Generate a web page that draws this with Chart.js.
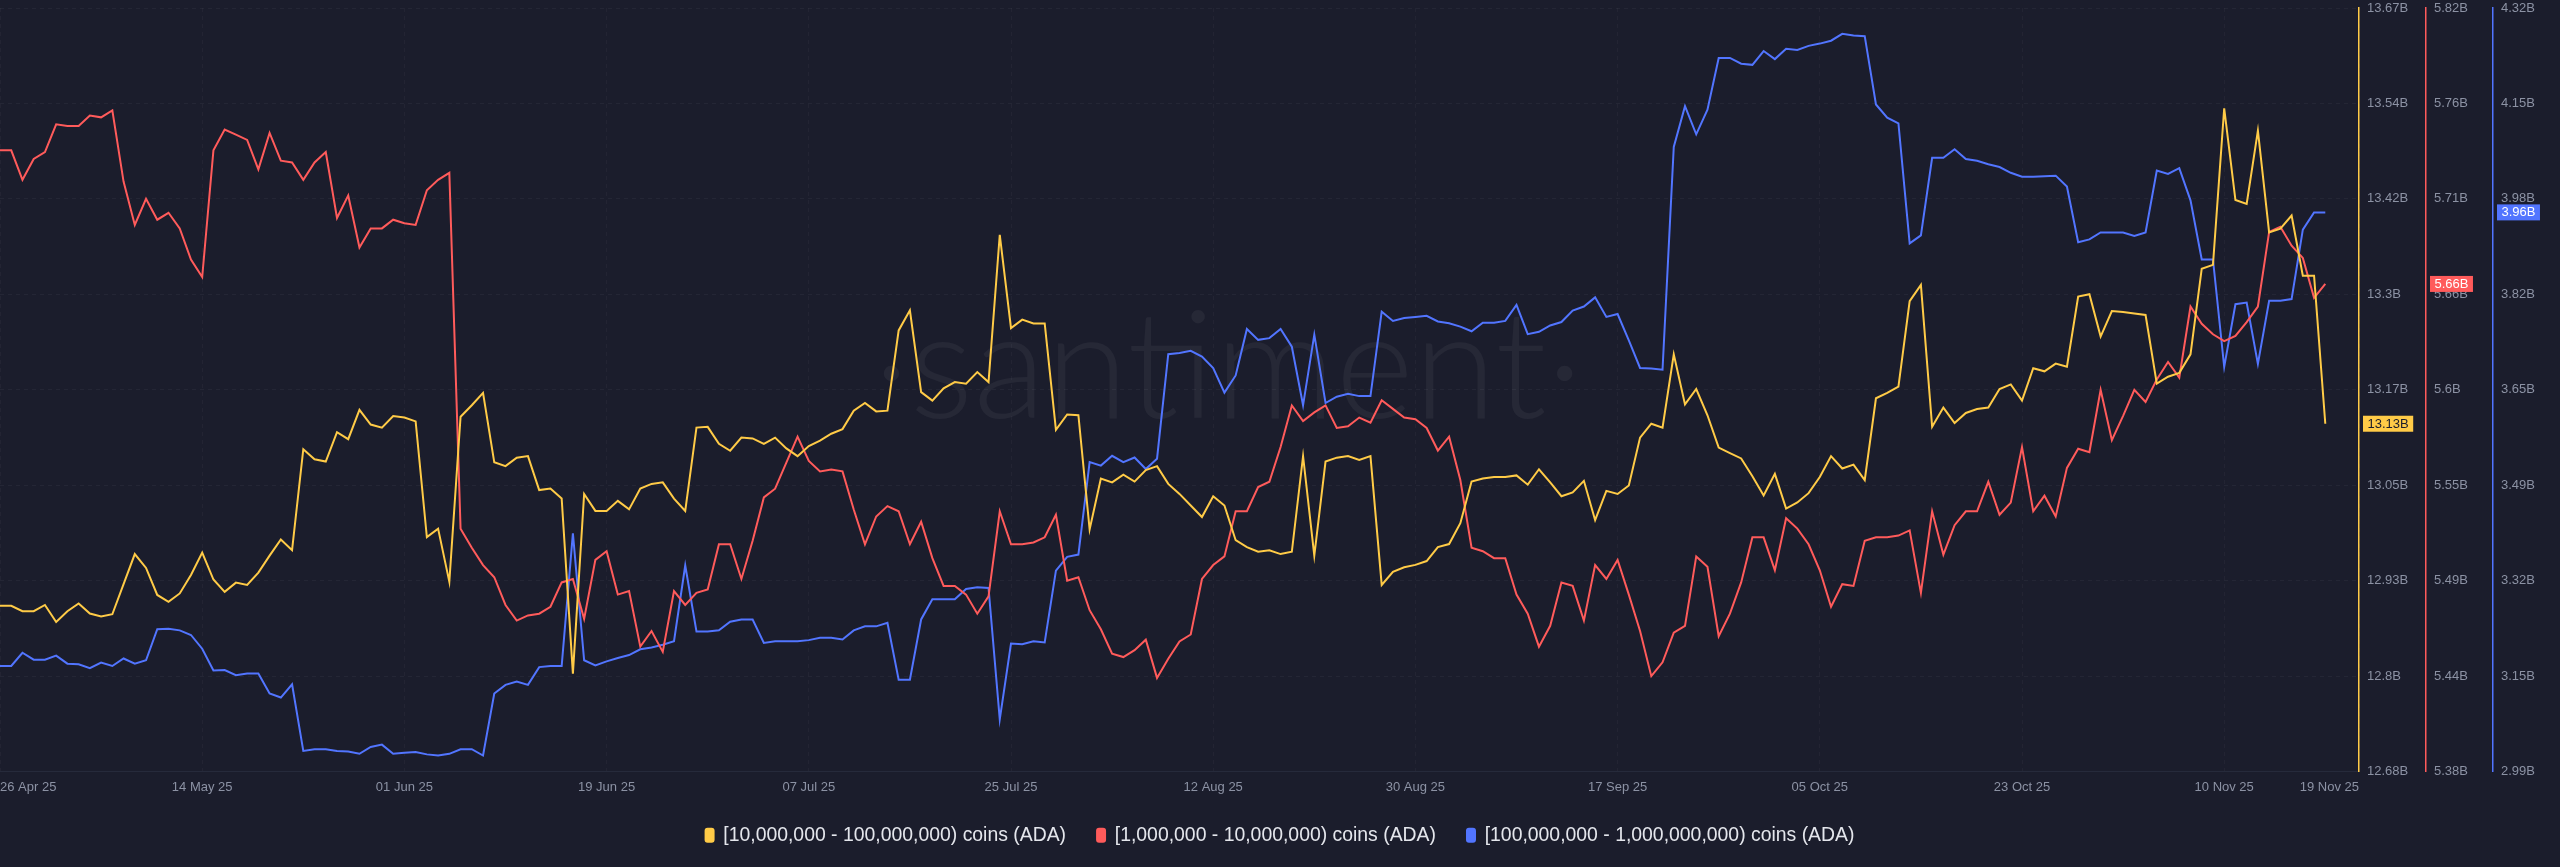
<!DOCTYPE html>
<html>
<head>
<meta charset="utf-8">
<script src="https://cdn.jsdelivr.net/npm/chart.js@4.4.1/dist/chart.umd.min.js"></script>
<style>
  html, body { margin: 0; padding: 0; background: #1b1d2c; }
  #wrap { width: 2560px; height: 867px; }
</style>
</head>
<body>
<div id="wrap"><canvas id="chart" width="2560" height="867"></canvas></div>
<script>
// --- data (daily, starting 26 Apr 2025) ---
const startDate = '2025-04-26';

const xTickLabels = ['26 Apr 25', '14 May 25', '01 Jun 25', '19 Jun 25', '07 Jul 25', '25 Jul 25',
  '12 Aug 25', '30 Aug 25', '17 Sep 25', '05 Oct 25', '23 Oct 25', '10 Nov 25', '19 Nov 25'];
const xTickDates = ['2025-04-26', '2025-05-14', '2025-06-01', '2025-06-19', '2025-07-07', '2025-07-25',
  '2025-08-12', '2025-08-30', '2025-09-17', '2025-10-05', '2025-10-23', '2025-11-10', '2025-11-19'];

// [10,000,000 - 100,000,000) coins, billions
const yellowVals = [
  12.895, 12.895, 12.888, 12.888, 12.896, 12.874, 12.888, 12.898, 12.885, 12.881,
  12.884, 12.923, 12.962, 12.944, 12.909, 12.900, 12.911, 12.935, 12.964, 12.929,
  12.913, 12.925, 12.922, 12.938, 12.960, 12.981, 12.967, 13.098, 13.085, 13.082,
  13.120, 13.111, 13.149, 13.130, 13.126, 13.141, 13.139, 13.134, 12.984, 12.995,
  12.926, 13.140, 13.155, 13.171, 13.081, 13.076, 13.087, 13.089, 13.045, 13.047,
  13.034, 12.807, 13.040, 13.018, 13.018, 13.031, 13.020, 13.047, 13.053, 13.055,
  13.034, 13.018, 13.126, 13.127, 13.105, 13.096, 13.113, 13.112, 13.105, 13.113,
  13.099, 13.089, 13.102, 13.109, 13.118, 13.124, 13.148, 13.158, 13.147, 13.148,
  13.252, 13.278, 13.172, 13.161, 13.177, 13.185, 13.183, 13.198, 13.185, 13.376,
  13.255, 13.266, 13.261, 13.261, 13.123, 13.143, 13.142, 12.994, 13.060, 13.055,
  13.065, 13.056, 13.071, 13.076, 13.053, 13.040, 13.025, 13.010, 13.037, 13.025,
  12.980, 12.971, 12.965, 12.967, 12.962, 12.965, 13.089, 12.960, 13.082, 13.087,
  13.089, 13.084, 13.089, 12.922, 12.939, 12.945, 12.948, 12.953, 12.971, 12.975,
  13.002, 13.056, 13.060, 13.062, 13.062, 13.064, 13.052, 13.072, 13.055, 13.037,
  13.042, 13.057, 13.006, 13.044, 13.040, 13.051, 13.113, 13.131, 13.126, 13.221,
  13.156, 13.176, 13.142, 13.100, 13.093, 13.086, 13.063, 13.038, 13.066, 13.021,
  13.029, 13.041, 13.062, 13.089, 13.073, 13.078, 13.058, 13.164, 13.171, 13.179,
  13.290, 13.311, 13.127, 13.152, 13.132, 13.145, 13.150, 13.152, 13.176, 13.182,
  13.161, 13.203, 13.199, 13.209, 13.205, 13.296, 13.299, 13.244, 13.277, 13.276,
  13.274, 13.272, 13.183, 13.192, 13.197, 13.221, 13.332, 13.337, 13.540, 13.421,
  13.416, 13.511, 13.379, 13.384, 13.401, 13.323, 13.323, 13.131
];

// [1,000,000 - 10,000,000) coins, billions
const redVals = [
  5.738, 5.738, 5.721, 5.733, 5.737, 5.753, 5.752, 5.752, 5.758, 5.757,
  5.761, 5.720, 5.695, 5.710, 5.698, 5.702, 5.693, 5.675, 5.665, 5.738,
  5.750, 5.747, 5.744, 5.727, 5.748, 5.732, 5.731, 5.721, 5.731, 5.737,
  5.699, 5.712, 5.682, 5.693, 5.693, 5.698, 5.696, 5.695, 5.715, 5.721,
  5.725, 5.520, 5.509, 5.499, 5.492, 5.476, 5.467, 5.470, 5.471, 5.475,
  5.489, 5.491, 5.468, 5.502, 5.507, 5.482, 5.484, 5.452, 5.461, 5.449,
  5.484, 5.476, 5.483, 5.485, 5.511, 5.511, 5.491, 5.513, 5.538, 5.543,
  5.558, 5.573, 5.559, 5.553, 5.554, 5.553, 5.531, 5.511, 5.527, 5.533,
  5.530, 5.511, 5.524, 5.503, 5.487, 5.487, 5.482, 5.471, 5.481, 5.530,
  5.511, 5.511, 5.512, 5.515, 5.528, 5.490, 5.492, 5.473, 5.462, 5.448,
  5.446, 5.450, 5.456, 5.434, 5.445, 5.455, 5.459, 5.491, 5.499, 5.504,
  5.530, 5.530, 5.544, 5.547, 5.567, 5.591, 5.582, 5.587, 5.591, 5.578,
  5.579, 5.584, 5.581, 5.594, 5.589, 5.584, 5.583, 5.578, 5.565, 5.573,
  5.548, 5.509, 5.507, 5.503, 5.503, 5.482, 5.471, 5.452, 5.464, 5.489,
  5.487, 5.467, 5.499, 5.491, 5.502, 5.482, 5.461, 5.435, 5.443, 5.460,
  5.464, 5.504, 5.498, 5.458, 5.471, 5.489, 5.515, 5.515, 5.496, 5.526,
  5.520, 5.511, 5.496, 5.475, 5.488, 5.487, 5.513, 5.515, 5.515, 5.516,
  5.519, 5.483, 5.530, 5.505, 5.522, 5.530, 5.530, 5.547, 5.528, 5.535,
  5.567, 5.530, 5.539, 5.527, 5.555, 5.566, 5.564, 5.600, 5.571, 5.585,
  5.600, 5.593, 5.606, 5.616, 5.607, 5.648, 5.638, 5.632, 5.628, 5.631,
  5.639, 5.648, 5.691, 5.694, 5.683, 5.676, 5.653, 5.661
];

// [100,000,000 - 1,000,000,000) coins, billions
const blueVals = [
  3.174, 3.174, 3.197, 3.185, 3.185, 3.192, 3.178, 3.177, 3.170, 3.180,
  3.174, 3.187, 3.178, 3.184, 3.238, 3.239, 3.236, 3.228, 3.204, 3.166,
  3.167, 3.158, 3.161, 3.161, 3.126, 3.119, 3.142, 3.026, 3.029, 3.029,
  3.026, 3.025, 3.021, 3.033, 3.037, 3.021, 3.023, 3.024, 3.020, 3.018,
  3.021, 3.029, 3.029, 3.018, 3.126, 3.141, 3.147, 3.141, 3.172, 3.174,
  3.174, 3.405, 3.184, 3.175, 3.182, 3.188, 3.193, 3.203, 3.206, 3.211,
  3.217, 3.349, 3.234, 3.234, 3.236, 3.251, 3.255, 3.255, 3.214, 3.217,
  3.217, 3.217, 3.219, 3.223, 3.223, 3.220, 3.236, 3.243, 3.243, 3.249,
  3.150, 3.150, 3.255, 3.290, 3.290, 3.290, 3.308, 3.311, 3.310, 3.081,
  3.213, 3.212, 3.217, 3.215, 3.340, 3.364, 3.368, 3.529, 3.523, 3.540,
  3.529, 3.537, 3.517, 3.535, 3.717, 3.719, 3.723, 3.713, 3.693, 3.650,
  3.680, 3.761, 3.742, 3.745, 3.761, 3.730, 3.628, 3.751, 3.632, 3.643,
  3.648, 3.644, 3.644, 3.791, 3.775, 3.780, 3.782, 3.784, 3.774, 3.771,
  3.765, 3.757, 3.772, 3.772, 3.775, 3.803, 3.752, 3.756, 3.767, 3.773,
  3.793, 3.800, 3.816, 3.782, 3.787, 3.741, 3.693, 3.692, 3.690, 4.078,
  4.149, 4.100, 4.143, 4.233, 4.233, 4.223, 4.221, 4.245, 4.231, 4.249,
  4.247, 4.254, 4.258, 4.263, 4.275, 4.272, 4.271, 4.152, 4.129, 4.119,
  3.910, 3.924, 4.059, 4.059, 4.074, 4.057, 4.054, 4.048, 4.043, 4.033,
  4.026, 4.026, 4.027, 4.028, 4.009, 3.912, 3.917, 3.929, 3.929, 3.929,
  3.923, 3.929, 4.037, 4.031, 4.041, 3.985, 3.882, 3.882, 3.695, 3.804,
  3.807, 3.700, 3.810, 3.810, 3.813, 3.934, 3.964, 3.964
];

// right-side axis tick labels (bottom -> top)
const yellowTicks = ['12.68B', '12.8B', '12.93B', '13.05B', '13.17B', '13.3B', '13.42B', '13.54B', '13.67B'];
const redTicks = ['5.38B', '5.44B', '5.49B', '5.55B', '5.6B', '5.66B', '5.71B', '5.76B', '5.82B'];
const blueTicks = ['2.99B', '3.15B', '3.32B', '3.49B', '3.65B', '3.82B', '3.98B', '4.15B', '4.32B'];

const seriesNames = ['[10,000,000 - 100,000,000) coins (ADA)', '[1,000,000 - 10,000,000) coins (ADA)', '[100,000,000 - 1,000,000,000) coins (ADA)'];

// --- styling ---
const YELLOW = '#ffcb47';
const RED = '#ff5b5b';
const BLUE = '#5275ff';
const TICK_COLOR = '#8c92a4';
const AXIS_FONT = "Arial, 'Liberation Sans', sans-serif";

const DAY = 86400000;
const dayOf = (d) => Math.round((new Date(d) - new Date(startDate)) / DAY);
const toPoints = (arr) => arr.map((v, i) => ({ x: i, y: v }));

function yAxis(ticks, color, weight, withGrid) {
  const lo = parseFloat(ticks[0]);
  const hi = parseFloat(ticks[ticks.length - 1]);
  return {
    type: 'linear',
    position: 'right',
    weight: weight,
    min: lo,
    max: hi,
    afterBuildTicks: (axis) => {
      axis.ticks = ticks.map((_, k) => ({ value: lo + (hi - lo) * k / (ticks.length - 1) }));
    },
    afterFit: (axis) => {
      axis.width = 67;
      axis.paddingTop = 8;
      axis.paddingBottom = 0;
    },
    grid: { display: withGrid, drawTicks: false, color: 'rgba(255,255,255,0.045)', lineWidth: 1 },
    border: { display: true, color: color, width: 1.5, dash: [4, 4] },
    ticks: {
      padding: 8,
      color: TICK_COLOR,
      font: { family: AXIS_FONT, size: 13 },
      callback: (v, idx) => ticks[idx]
    }
  };
}

// faint watermark in the plot
const watermark = {
  id: 'watermark',
  beforeDatasetsDraw(chart) {
    const { ctx } = chart;
    ctx.save();
    ctx.fillStyle = 'rgba(255,255,255,0.05)';
    ctx.font = "300 150px Lato, 'Open Sans', sans-serif";
    ctx.textAlign = 'center';
    ctx.textBaseline = 'middle';
    ctx.fillText('\u00b7santiment\u00b7', 1228, 370);
    ctx.restore();
  }
};

// last-value badges on the right axes
const lastBadges = {
  id: 'lastBadges',
  afterDraw(chart) {
    const { ctx } = chart;
    const specs = [
      { ds: 0, axis: 'yYellow', bg: YELLOW, fg: '#1b1d2c' },
      { ds: 1, axis: 'yRed', bg: RED, fg: '#ffffff' },
      { ds: 2, axis: 'yBlue', bg: BLUE, fg: '#ffffff' }
    ];
    ctx.save();
    ctx.font = '13px ' + AXIS_FONT;
    ctx.textBaseline = 'middle';
    specs.forEach(s => {
      const data = chart.data.datasets[s.ds].data;
      const val = data[data.length - 1].y;
      const scale = chart.scales[s.axis];
      const y = scale.getPixelForValue(val);
      const txt = (Math.round(val * 100) / 100) + 'B';
      const w = ctx.measureText(txt).width + 9;
      const x = scale.left + 4;
      ctx.fillStyle = s.bg;
      ctx.fillRect(x, y - 8, w, 16);
      ctx.fillStyle = s.fg;
      ctx.fillText(txt, x + 4.5, y + 0.5);
    });
    ctx.restore();
  }
};

function lineDs(label, vals, color, axis) {
  return {
    label: label,
    data: toPoints(vals),
    yAxisID: axis,
    borderColor: color,
    backgroundColor: color,
    borderWidth: 2,
    pointRadius: 0,
    tension: 0,
    fill: false
  };
}

const xDays = xTickDates.map(dayOf);

new Chart(document.getElementById('chart'), {
  type: 'line',
  data: {
    datasets: [
      lineDs(seriesNames[0], yellowVals, YELLOW, 'yYellow'),
      lineDs(seriesNames[1], redVals, RED, 'yRed'),
      lineDs(seriesNames[2], blueVals, BLUE, 'yBlue')
    ]
  },
  options: {
    responsive: false,
    animation: false,
    devicePixelRatio: 1,
    layout: { padding: { top: 0, left: 0, right: 0, bottom: 12 } },
    scales: {
      x: {
        type: 'linear',
        min: 0,
        max: 210,
        afterBuildTicks: (axis) => {
          // last label sits at the right end of the axis
          axis.ticks = xDays.map((d, k) => ({ value: k === xDays.length - 1 ? axis.max : d }));
        },
        afterFit: (axis) => {
          axis.paddingLeft = 0;
          axis.paddingRight = 0;
          axis.height = 23;
        },
        grid: { display: true, drawTicks: false, color: 'rgba(255,255,255,0.035)' },
        border: { display: true, color: '#262a3b', width: 1, dash: [4, 4] },
        ticks: {
          autoSkip: false,
          maxRotation: 0,
          align: 'inner',
          padding: 8,
          color: TICK_COLOR,
          font: { family: AXIS_FONT, size: 13 },
          callback: (v, idx) => xTickLabels[idx]
        }
      },
      yYellow: yAxis(yellowTicks, YELLOW, 0, true),
      yRed: yAxis(redTicks, RED, 1, false),
      yBlue: yAxis(blueTicks, BLUE, 2, false)
    },
    plugins: {
      legend: {
        position: 'bottom',
        labels: {
          color: '#e4e6ec',
          font: { family: AXIS_FONT, size: 19.4 },
          boxWidth: 8,
          boxHeight: 13,
          padding: 31,
          useBorderRadius: true,
          borderRadius: 2
        }
      },
      tooltip: { enabled: false }
    }
  },
  plugins: [watermark, lastBadges]
});
</script>
</body>
</html>
